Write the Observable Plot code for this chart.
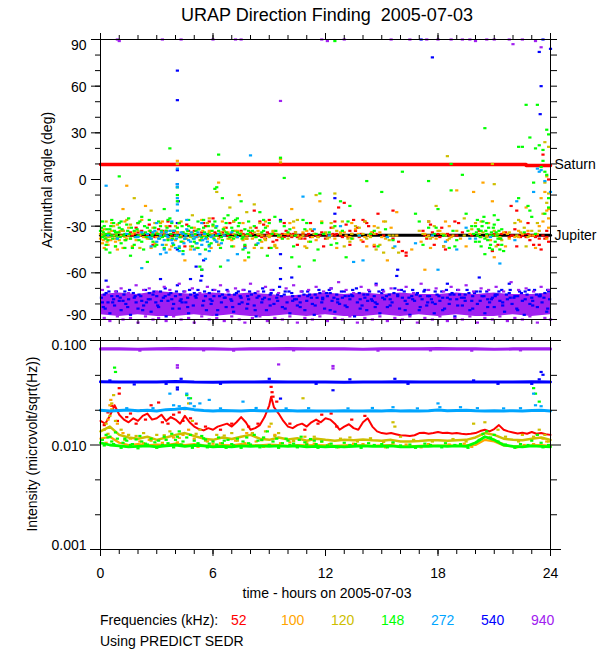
<!DOCTYPE html>
<html><head><meta charset="utf-8">
<script src="https://cdn.jsdelivr.net/npm/d3@7"></script>
<script src="https://cdn.jsdelivr.net/npm/@observablehq/plot@0.6"></script>
<style>
body{margin:0;background:#fff;}
#wrap{position:relative;width:600px;height:650px;overflow:hidden;background:#fff;}
#wrap svg{position:absolute;left:0;}
</style></head><body><div id="wrap"></div>
<script>
// ---------- axis / labels ----------
const hourTicks = [0,1,2,3,4,5,6,7,8,9,10,11,12,13,14,15,16,17,18,19,20,21,22,23,24];
const majorHours = [0,6,12,18,24];
const angleMinor = [-90,-80,-70,-60,-50,-40,-30,-20,-10,0,10,20,30,40,50,60,70,80,90];
const angleMajor = [-90,-60,-30,0,30,60,90];
const angleLabelsMid = [60,30,0,-30,-60];
const intMajor = [0.001,0.01,0.1];
const intMinor = [0.00215,0.00464,0.0215,0.0464];
const freqs = ["52","100","120","148","272","540","940"];
const colors = ["#ff0000","#ffa500","#cdbe00","#00ff00","#00a5ff","#0000ff","#a020f0"];

// ---------- reference lines (azimuth, deg) ----------
const saturnT = [0,22.7,22.7,24];
const saturnA = [9.7,9.7,9.0,9.0];
const jupiterT = [0,24];
const jupiterA = [-35.8,-35.8];

// ---------- 940 kHz dense band core (azimuth, deg) ----------
const bandHours = [0,1,2,3,4,5,6,7,8,9,10,11,12,13,14,15,16,17,18,19,20,21,22,23,24];
const band940Lo = [-87,-88,-87,-88,-88,-87,-88,-87,-88,-88,-87,-88,-87,-88,-88,-87,-88,-87,-88,-87,-88,-88,-87,-88,-87];
const band940Hi = [-74,-73,-74,-72,-73,-74,-73,-74,-73,-74,-75,-74,-73,-74,-73,-74,-73,-74,-74,-73,-74,-73,-74,-74,-73];

// ---------- azimuth points [hour, deg] ----------
const az52 = [[1.2,-33],[1.5,-36],[1.9,-31],[2.3,-35],[2.6,-29],[2.9,-37],[3.1,-32],[3.3,-33],[3.4,-35],[3.7,-30],[3.9,-34],[4.3,-37],[4.6,-29],[4.9,-36],[5.0,-33],[5.3,-36],[5.6,-30],[5.8,-27],[6.0,-25],[6.1,-34],[6.4,-37],[6.7,-31],[6.9,-28],[7.2,-36],[7.5,-33],[7.8,-38],[8.1,-35],[8.2,-20],[8.3,-31],[8.4,-36],[8.5,-27],[8.6,-37],[8.7,-29],[8.8,-38],[8.9,-34],[9.0,-26],[9.1,-36],[9.2,-40],[9.3,-35],[9.4,-39],[9.6,-37],[9.7,-35],[9.9,-33],[10.0,-36],[10.2,-37],[10.3,-35],[10.4,-34],[10.6,-36],[10.7,-38],[10.9,-38],[11.0,-36],[11.1,-35],[11.3,-33],[11.4,-35],[11.6,-37],[11.7,-36],[11.8,-34],[12.0,-38],[12.1,-36],[12.3,-31],[12.4,-35],[12.6,-35],[12.7,-18],[12.8,-36],[12.9,-37],[13.0,-15],[13.1,-29],[13.2,-37],[13.3,-33],[13.5,-26],[13.6,-33],[13.7,-31],[13.9,-35],[14.0,-40],[14.1,-27],[14.2,-28],[14.3,-30],[14.5,-34],[14.8,-22],[15.1,-36],[15.6,-38],[15.6,-20],[15.9,-40],[16.1,-46],[16.3,-47],[16.3,-49],[17.2,-33],[17.4,-38],[17.6,-29],[17.8,-42],[18.0,-35],[18.2,-31],[18.4,-45],[18.6,-36],[18.9,-27],[19.3,-34],[19.8,-36],[20.2,-33],[20.6,-37],[20.9,-46],[21.0,-35],[21.3,-38],[21.6,-34],[21.9,-36],[21.9,-17],[22.0,-36],[22.1,-32],[22.2,-20],[22.3,-36],[22.4,-37],[22.6,-35],[22.7,-37],[22.9,-39],[23.0,-36],[23.1,-42],[23.3,-36],[23.4,-38],[23.5,-45],[23.6,16],[23.7,-38],[23.8,-33],[23.9,-40],[23.9,0],
[1.6,-34],[1.7,-36],[1.8,-35],[2.0,-34],[2.1,-36],[2.2,-33],[2.5,-36],[2.7,-34],[3.0,-35],[3.5,-33],[3.8,-36],[4.1,-34],[4.4,-35],[4.7,-33],[5.1,-36],[5.4,-34],[5.9,-36],[6.2,-35],[6.5,-34],[6.8,-36],[7.0,-35],[7.3,-37],[7.6,-35],[7.9,-36],[8.0,-34],[8.7,-36],[9.0,-35],[9.5,-36],[9.8,-37],[10.1,-35],[10.5,-37],[10.8,-35],[11.2,-37],[11.5,-36],[11.9,-35],[12.2,-37],[12.5,-36],[13.4,-35],[13.8,-37],[14.4,-36],[14.7,-35],[17.3,-36],[17.7,-34],[18.1,-37],[18.5,-35],[19.0,-36],[21.1,-36],[21.4,-35],[21.8,-37],[22.5,-36],[22.8,-35],[23.2,-37],[23.6,-36],[23.8,-37]];
const az52Spread = [[2.0,-28],[2.8,-42],[3.6,-27],[4.5,-43],[5.5,-28],[6.3,-42],[7.1,-27],[7.7,-43],[8.3,-42],[9.0,-44],[9.8,-28],[10.5,-42],[11.2,-28],[11.9,-43],[12.5,-27],[13.3,-42],[14.0,-26],[14.6,-43],[17.5,-27],[18.3,-43],[19.1,-28],[21.2,-42],[22.2,-43],[22.8,-28],[23.4,-42]];
const az100 = [[0.0,-38],[0.1,-41],[0.2,-35],[0.4,-42],[0.5,-37],[0.6,-33],[0.8,-40],[0.9,-29],[1.1,-36],[1.2,-44],[1.2,-19],[1.4,-38],[1.4,-4],[1.5,-31],[1.7,-35],[1.9,-39],[2.0,-28],[2.3,-37],[2.4,-17],[2.6,-33],[2.9,-41],[3.2,-36],[3.5,-30],[3.8,-38],[3.8,-43],[4.1,-34],[4.1,12],[4.4,-40],[4.5,-52],[4.7,-35],[4.8,-45],[5.0,-31],[5.3,-39],[5.5,-36],[5.8,-33],[6.0,-37],[6.2,-40],[6.3,-2],[6.4,-34],[6.6,-31],[6.9,-38],[7.1,-35],[7.3,-33],[7.4,-10],[7.6,-39],[7.7,-52],[7.8,-36],[8.1,-38],[8.4,-33],[8.6,-40],[8.9,-36],[8.9,-30],[9.2,-34],[9.4,-44],[9.6,13],[9.7,-38],[10.0,-35],[10.2,-19],[10.3,-31],[10.7,-37],[11.0,-33],[11.5,-39],[11.7,-14],[12.0,-35],[12.5,-38],[13.0,-34],[13.3,-37],[13.6,-32],[13.9,-39],[14.3,-36],[14.6,-42],[14.6,-30],[14.9,-34],[15.2,-38],[15.3,-52],[15.5,-31],[15.8,-36],[15.8,-21],[16.6,-45],[17.1,-40],[17.3,-35],[17.3,-58],[17.7,-37],[18.1,-33],[18.5,-39],[18.6,-30],[18.8,-36],[19.0,-7],[19.2,-38],[19.7,-35],[19.9,-8],[20.3,-37],[20.4,-2],[20.8,-39],[20.9,-14],[21.0,-50],[21.1,-36],[21.5,-34],[21.8,-38],[22.1,-37],[22.3,-33],[22.5,-35],[22.7,-18],[22.8,-33],[23.1,-36],[23.4,-30],[23.5,-12],[23.6,-27],[23.7,-8],[23.8,-38],[23.8,-20],[23.9,-31],[23.9,-25],[23.9,-19],
[0.05,-36],[0.15,-39],[0.3,-37],[0.35,-40],[0.45,-34],[0.55,-39],[0.7,-36],[0.75,-38],[0.85,-35],[1.0,-39],[1.05,-33],[1.3,-37],[1.6,-38],[1.8,-34],[2.1,-36],[2.5,-38],[2.75,-35],[3.0,-37],[3.4,-34],[3.65,-37],[4.0,-39],[4.3,-36],[4.6,-38],[4.9,-34],[5.2,-37],[5.45,-33],[5.7,-38],[5.95,-35],[6.3,-38],[6.55,-36],[6.8,-34],[7.0,-39],[7.25,-37],[7.5,-34],[7.7,-38],[7.95,-35],[8.25,-37],[8.5,-35],[8.75,-38],[9.05,-36],[9.5,-37],[9.85,-35],[10.5,-36],[10.8,-34],[11.3,-37],[12.3,-36],[12.8,-34],[13.1,-36],[13.45,-38],[13.75,-35],[14.1,-37],[14.45,-34],[15.0,-37],[17.5,-36],[17.9,-38],[18.3,-35],[18.7,-37],[20.6,-36],[21.3,-37],[21.7,-35],[22.3,-37],[22.9,-36],[23.3,-35]];
const az100Spread = [[0.2,-44],[0.6,-28],[0.9,-45],[1.3,-27],[1.7,-43],[2.2,-26],[2.7,-44],[3.3,-27],[3.7,-45],[4.2,-28],[4.8,-43],[5.4,-26],[5.9,-44],[6.5,-27],[7.1,-43],[7.6,-28],[8.2,-44],[8.8,-27],[9.3,-42],[10.1,-28],[10.9,-43],[11.8,-27],[12.6,-44],[13.4,-28],[14.2,-43],[15.1,-27],[17.6,-44],[18.4,-27],[19.5,-43],[20.7,-28],[21.6,-43],[22.4,-27],[23.2,-44]];
const az120 = [[0.0,-35],[0.2,-32],[0.4,-37],[0.7,-30],[1.0,-34],[1.3,-39],[1.6,-29],[1.8,-12],[2.0,-33],[2.4,-37],[2.7,-20],[2.8,-31],[3.2,-35],[3.2,-28],[3.6,-38],[4.0,-30],[4.1,10],[4.4,-34],[4.8,-37],[4.9,-23],[5.2,-32],[5.6,-36],[5.8,-25],[6.0,-30],[6.2,-8],[6.4,-35],[6.8,-38],[6.9,-18],[7.2,-33],[7.6,-36],[7.8,-21],[8.0,-31],[8.2,-16],[8.4,-35],[8.6,-44],[8.8,-39],[9.2,-33],[9.6,11],[9.6,-36],[10.0,-38],[10.4,-34],[10.5,-26],[10.8,-36],[11.1,-40],[11.2,-32],[11.5,-10],[11.6,-37],[12.0,-34],[12.1,-38],[12.4,-31],[12.5,-9],[12.8,-35],[12.9,-27],[13.2,-38],[13.3,-40],[13.6,-30],[13.8,-31],[14.0,-35],[14.4,-37],[14.7,-45],[14.8,-31],[15.1,-47],[15.2,-27],[15.4,-39],[15.6,-36],[15.6,-44],[15.9,-47],[17.0,-33],[17.4,-37],[17.8,-30],[17.9,-17],[18.2,-35],[18.5,15],[18.6,-38],[19.0,-33],[19.4,-36],[19.4,-25],[19.8,-32],[20.0,-28],[20.2,-35],[20.6,-37],[20.9,10],[21.0,-33],[21.0,-3],[21.4,-39],[21.8,-34],[22.2,-36],[22.3,-26],[22.6,-31],[23.0,-33],[23.3,-28],[23.4,-33],[23.6,-22],[23.7,-2],[23.7,24],[23.8,-15],[23.8,2],[23.9,-9],[23.9,21],
[0.1,-33],[0.3,-38],[0.5,-35],[0.9,-37],[1.2,-33],[1.5,-36],[2.2,-35],[2.6,-38],[3.0,-34],[3.4,-36],[3.8,-33],[4.2,-37],[4.6,-35],[5.0,-36],[5.4,-38],[5.8,-34],[6.2,-36],[6.6,-33],[7.0,-37],[7.4,-35],[7.8,-38],[8.2,-34],[8.6,-36],[9.0,-37],[9.4,-35],[10.2,-36],[10.6,-38],[11.4,-35],[12.2,-37],[12.6,-33],[13.4,-35],[14.2,-38],[14.6,-35],[15.4,-36],[17.2,-35],[17.6,-38],[18.0,-33],[18.4,-36],[20.4,-34],[20.8,-36],[21.2,-35],[22.4,-34],[22.8,-37],[23.2,-35]];
const az120Spread = [[0.3,-27],[0.8,-43],[1.4,-26],[2.1,-44],[2.9,-28],[3.5,-42],[4.3,-27],[5.1,-44],[5.7,-28],[6.3,-42],[7.1,-27],[7.7,-44],[8.5,-28],[9.3,-43],[10.3,-27],[11.0,-44],[12.3,-28],[13.0,-43],[14.1,-27],[14.9,-42],[17.5,-27],[18.3,-43],[20.3,-27],[21.1,-43],[22.1,-28],[22.7,-43]];
const az148 = [[0.0,-33],[0.1,-37],[0.2,-30],[0.2,-36],[0.3,-35],[0.3,-45],[0.4,-39],[0.5,-32],[0.5,-47],[0.6,-36],[0.7,-28],[0.8,-34],[0.9,-38],[1.0,-31],[1.0,-28],[1.0,2],[1.1,-41],[1.3,-35],[1.4,-29],[1.6,-38],[1.6,-49],[1.7,-44],[1.8,-33],[2.0,-36],[2.1,-27],[2.2,-40],[2.2,-24],[2.4,-34],[2.5,-31],[2.5,-53],[2.7,-38],[2.8,-35],[2.8,-40],[3.0,-42],[3.2,-30],[3.3,-37],[3.4,-19],[3.5,-33],[3.6,-39],[3.6,-26],[3.7,20],[3.8,-28],[4.0,-36],[4.1,-31],[4.1,-10],[4.1,-14],[4.1,-5],[4.2,-44],[4.3,-40],[4.4,-34],[4.5,-38],[4.7,-30],[4.8,-36],[5.0,-40],[5.1,-33],[5.1,-41],[5.2,-27],[5.3,-56],[5.4,-37],[5.4,-58],[5.5,-31],[5.6,-45],[5.7,-35],[5.9,-41],[6.0,-29],[6.1,-6],[6.2,-36],[6.2,-5],[6.3,-33],[6.3,16],[6.4,-56],[6.5,-39],[6.5,-12],[6.6,-25],[6.8,-35],[6.8,-23],[7.0,-31],[7.1,-38],[7.2,-26],[7.3,-34],[7.4,-28],[7.5,-14],[7.6,-37],[7.7,-42],[7.9,-33],[7.9,-47],[7.9,-50],[8.0,-36],[8.2,-30],[8.5,-39],[8.5,-21],[8.7,-33],[8.9,-49],[9.0,-28],[9.3,-24],[9.5,-36],[9.6,14],[9.8,-30],[9.8,1],[10.1,-32],[10.2,-50],[10.6,-56],[10.8,-26],[11.2,-40],[11.4,-52],[11.7,-9],[11.8,-28],[11.9,-35],[12.3,-42],[12.5,-30],[12.5,89],[12.6,-41],[12.8,-14],[13.1,-50],[13.3,-17],[13.4,-38],[13.8,-36],[14.2,-1],[14.6,-33],[15.0,-8],[15.3,-37],[15.6,-39],[16.1,5],[16.8,-22],[17.2,-42],[17.5,-31],[17.5,-1],[17.9,-31],[18.0,-19],[18.3,-36],[18.6,-44],[18.7,10],[18.7,-7],[19.0,-39],[19.3,3],[19.5,-22],[19.6,-33],[19.8,-30],[20.0,-30],[20.0,-40],[20.1,-36],[20.2,-40],[20.3,-33],[20.4,-27],[20.45,-24],[20.5,-38],[20.5,-48],[20.5,33],[20.6,-35],[20.7,-31],[20.75,-44],[20.8,-42],[20.9,-36],[21.0,-29],[21.0,-23],[21.05,-40],[21.1,-34],[21.2,-38],[21.3,-45],[21.4,-32],[21.5,-46],[22.3,-12],[22.3,21],[22.5,21],[22.7,48],[22.8,-17],[22.9,-20],[22.9,27],[23.0,-24],[23.1,-2],[23.2,20],[23.3,48],[23.4,22],[23.5,8],[23.6,12],[23.6,19],[23.7,5],[23.7,-22],[23.8,3],[23.8,32],[23.9,-12],[23.9,29],[23.9,-18],
[0.05,-31],[0.15,-34],[0.25,-38],[0.35,-32],[0.45,-35],[0.55,-30],[0.65,-38],[0.75,-33],[0.85,-36],[0.95,-34],[1.05,-37],[1.15,-32],[1.25,-36],[1.35,-39],[1.45,-33],[1.55,-35],[1.65,-31],[1.85,-37],[1.95,-32],[2.05,-39],[2.25,-35],[2.35,-30],[2.45,-37],[2.65,-33],[2.75,-36],[2.9,-31],[3.05,-35],[3.15,-38],[3.25,-33],[3.45,-36],[3.55,-31],[3.75,-35],[3.85,-38],[3.95,-33],[4.25,-37],[4.35,-30],[4.55,-35],[4.65,-33],[4.85,-31],[4.95,-38],[5.05,-35],[5.25,-32],[5.35,-39],[5.55,-34],[5.65,-37],[5.75,-30],[5.85,-36],[5.95,-33],[6.05,-38],[6.15,-31],[6.35,-35],[6.45,-37],[6.55,-32],[6.7,-34],[6.9,-37],[7.05,-33],[7.2,-36],[7.35,-30],[7.45,-35],[7.55,-38],[7.7,-32],[7.85,-35],[8.1,-33],[8.3,-37],[8.6,-34],[8.8,-31],[9.15,-35],[9.35,-33],[9.7,-38],[10.0,-34],[10.4,-36],[10.9,-32],[11.5,-35],[12.2,-34],[12.9,-33],[14.4,-35],[15.2,-32],[17.8,-35],[18.8,-33],[19.9,-35],[20.05,-34],[20.15,-32],[20.25,-37],[20.35,-30],[20.55,-33],[20.65,-39],[20.85,-34],[20.95,-31],[21.15,-36],[21.25,-33],[21.35,-38],[22.6,-34],[23.2,-35]];
const az148Spread = [[0.1,-27],[0.3,-42],[0.6,-26],[0.8,-43],[1.1,-27],[1.3,-44],[1.5,-25],[1.8,-42],[2.0,-28],[2.3,-45],[2.6,-26],[2.9,-43],[3.1,-27],[3.4,-44],[3.7,-25],[3.9,-42],[4.2,-28],[4.4,-46],[4.7,-26],[4.9,-43],[5.2,-44],[5.5,-26],[5.8,-42],[6.1,-27],[6.4,-44],[6.7,-28],[7.0,-43],[7.3,-25],[7.6,-45],[7.9,-27],[8.3,-42],[8.7,-26],[9.1,-44],[9.6,-27],[10.3,-43],[11.0,-28],[11.6,-45],[13.2,-27],[14.8,-43],[17.0,-27],[18.9,-43],[20.1,-26],[20.3,-43],[20.6,-28],[20.9,-45],[21.2,-26],[21.4,-42]];
const az272 = [[0.3,-4],[2.0,-37],[2.2,-57],[2.5,-35],[2.7,-38],[2.9,-33],[3.0,-40],[3.2,-36],[3.2,-48],[3.3,-42],[3.5,-34],[3.6,-37],[3.8,-39],[3.9,-33],[4.0,-44],[4.1,-36],[4.1,-5],[4.1,-3],[4.1,7],[4.1,-12],[4.1,-20],[4.1,-16],[4.2,-46],[4.4,-35],[4.5,-38],[4.6,-32],[4.8,-40],[4.9,-36],[5.1,-37],[5.2,-34],[5.3,-48],[5.4,-42],[5.6,-38],[5.6,-51],[5.8,-43],[6.0,-36],[6.2,-40],[6.6,-36],[6.8,-52],[7.0,-34],[7.3,-48],[7.7,-44],[8.0,15.5],[10.8,-11],[11.4,-32],[12.8,-30],[13.5,-53],[14.0,-52],[15.7,-43],[16.8,-41],[17.7,-36],[18.0,-58],[18.4,-40],[19.0,-45],[19.5,-31],[20.0,-38],[21.3,-54],[22.2,-14],[23.1,-8],[23.3,7],[23.4,5],[23.5,6],[23.7,-1],[24.0,-8],
[2.6,-37],[2.8,-34],[3.1,-38],[3.25,-34],[3.4,-39],[3.55,-36],[3.7,-33],[3.85,-41],[4.05,-38],[4.3,-34],[4.45,-41],[4.55,-36],[4.7,-39],[4.85,-34],[5.0,-38],[5.15,-41],[5.3,-36],[5.45,-39],[5.55,-35],[5.7,-40],[5.9,-37],[6.1,-39],[6.3,-35],[6.45,-41],[0.4,-36],[0.9,-38],[1.4,-35],[1.9,-37],[2.2,-34],[7.3,-37],[8.4,-41],[12.2,-36],[13.8,-36],[15.3,-37],[19.7,-38],[20.8,-37],[22.1,-39]];
const az272Spread = [[2.7,-43],[3.0,-28],[3.4,-45],[3.8,-27],[4.2,-43],[4.6,-26],[5.0,-45],[5.4,-28],[5.8,-46],[6.2,-30],[3.5,-47],[4.4,-48]];
const az540 = [[0.05,-76],[0.15,-82],[0.2,-74],[0.3,-73],[0.3,-65],[0.4,-79],[0.5,-86],[0.6,-75],[0.7,-77],[0.75,-81],[0.85,-72],[1.0,-78],[1.1,-84],[1.25,-74],[1.3,-72],[1.35,-80],[1.5,-77],[1.6,-87],[1.75,-73],[1.8,-76],[1.9,-79],[2.0,-83],[2.15,-75],[2.2,-78],[2.3,-81],[2.4,-71],[2.55,-77],[2.6,-73],[2.7,-85],[2.8,-74],[2.95,-79],[3.0,-75],[3.1,-82],[3.2,-72],[3.2,-64],[3.35,-76],[3.45,-70],[3.5,-88],[3.6,-78],[3.75,-73],[3.8,-77],[3.9,-80],[4.0,-75],[4.1,-68],[4.1,70],[4.1,51],[4.1,10],[4.1,6],[4.1,-3],[4.15,-14],[4.1,-28],[4.1,-45],[4.2,-83],[4.25,-74],[4.3,-77],[4.45,-72],[4.55,-79],[4.65,-76],[4.7,-86],[4.8,-74],[4.8,-64],[4.95,-81],[5.0,-73],[5.1,-76],[5.1,-56],[5.2,-71],[5.35,-65],[5.4,-62],[5.4,-58],[5.5,-52],[5.5,-78],[5.6,-75],[5.65,-84],[5.8,-73],[5.9,-80],[6.0,-71],[6.05,-75],[6.2,-87],[6.3,-72],[6.45,-79],[6.5,-74],[6.6,-76],[6.7,-82],[6.85,-74],[6.95,-77],[7.0,-78],[7.1,-85],[7.25,-73],[7.35,-72],[7.4,-80],[7.5,-76],[7.65,-71],[7.8,-83],[7.85,-75],[7.9,-77],[8.05,-74],[8.2,-81],[8.25,-73],[8.3,-88],[8.45,-75],[8.6,-79],[8.7,-72],[8.75,-76],[8.85,-84],[9.0,-77],[9.1,-73],[9.2,-71],[9.25,-80],[9.4,-76],[9.55,-69],[9.6,-64],[9.6,-26],[9.6,-48],[9.6,-57],[9.65,-75],[9.7,-82],[9.8,-74],[9.95,-79],[10.05,-72],[10.1,-86],[10.2,-73],[10.2,-63],[10.35,-77],[10.45,-77],[10.5,-81],[10.6,-75],[10.75,-72],[10.85,-74],[10.9,-84],[11.0,-78],[11.15,-74],[11.25,-76],[11.3,-80],[11.4,-87],[11.55,-76],[11.65,-71],[11.7,-73],[11.8,-79],[11.95,-83],[12.05,-73],[12.1,-75],[12.2,-71],[12.3,-70],[12.35,-78],[12.45,-76],[12.5,-85],[12.5,-12],[12.5,-22],[12.6,-74],[12.75,-80],[12.85,-72],[12.9,-76],[13.0,-72],[13.15,-82],[13.25,-75],[13.3,-77],[13.4,-74],[13.55,-88],[13.65,-70],[13.7,-79],[13.8,-73],[13.95,-81],[14.05,-74],[14.1,-76],[14.2,-84],[14.35,-72],[14.45,-77],[14.5,-78],[14.6,-75],[14.7,-67],[14.75,-80],[14.85,-72],[14.9,-86],[15.0,-73],[15.15,-77],[15.25,-75],[15.3,-82],[15.4,-74],[15.55,-79],[15.65,-73],[15.7,-70],[15.8,-62],[15.85,-58],[15.95,-83],[16.05,-71],[16.1,-76],[16.2,-72],[16.35,-80],[16.45,-76],[16.5,-87],[16.6,-75],[16.75,-78],[16.85,-74],[16.9,-73],[17.0,-84],[17.1,90],[17.15,-77],[17.25,-72],[17.3,-71],[17.4,-81],[17.55,-75],[17.65,-77],[17.7,78.5],[17.7,-79],[17.8,-86],[17.95,-74],[18.05,-75],[18.1,-78],[18.2,-72],[18.35,-83],[18.45,-71],[18.5,-76],[18.5,-67],[18.6,-80],[18.75,-73],[18.85,-74],[18.9,-88],[19.0,-77],[19.15,-74],[19.25,-76],[19.3,-81],[19.4,-76],[19.55,-71],[19.65,-73],[19.7,-84],[19.8,-78],[19.95,-73],[20.05,-72],[20.1,-80],[20.2,-63],[20.35,-75],[20.45,-75],[20.5,-86],[20.6,-72],[20.75,-79],[20.85,-77],[20.9,-76],[21.0,-82],[21.15,-74],[21.25,-72],[21.3,-78],[21.4,-71],[21.55,-85],[21.65,-74],[21.7,-77],[21.8,-73],[21.8,-67],[21.95,-80],[22.05,-76],[22.1,-75],[22.2,-83],[22.35,-72],[22.45,-73],[22.5,-78],[22.6,-87],[22.75,-74],[22.85,-71],[22.9,-80],[23.0,-76],[23.15,-71],[23.25,-74],[23.3,-82],[23.4,-75],[23.4,82],[23.45,42],[23.5,60],[23.55,-79],[23.6,90],[23.65,-76],[23.7,-73],[23.8,-85],[23.9,-72],[23.95,-77],[24.0,84],
[0.1,-79],[0.45,-72],[0.9,-75],[1.2,-78],[1.55,-71],[2.05,-74],[2.45,-79],[2.85,-72],[3.25,-78],[3.65,-74],[4.05,-72],[4.35,-79],[4.75,-71],[5.15,-74],[5.55,-72],[5.95,-78],[6.35,-75],[6.75,-71],[7.15,-74],[7.55,-79],[7.95,-72],[8.35,-76],[8.65,-70],[9.05,-74],[9.45,-78],[9.85,-72],[10.25,-75],[10.65,-79],[11.05,-72],[11.45,-74],[11.85,-77],[12.25,-73],[12.65,-79],[13.05,-75],[13.45,-71],[13.85,-77],[14.25,-74],[14.65,-79],[15.05,-71],[15.45,-77],[15.85,-74],[16.25,-78],[16.65,-71],[17.05,-75],[17.45,-79],[17.85,-72],[18.25,-76],[18.65,-74],[19.05,-71],[19.45,-78],[19.85,-75],[20.25,-72],[20.65,-77],[21.05,-74],[21.45,-79],[21.85,-71],[22.25,-75],[22.65,-72],[23.05,-78],[23.45,-74],[23.85,-71]];
const az540Core = [[0.25,-83],[0.65,-79],[1.05,-76],[1.45,-82],[1.85,-75],[2.25,-84],[2.65,-77],[3.05,-81],[3.45,-75],[3.85,-83],[4.25,-78],[4.65,-82],[5.05,-75],[5.45,-81],[5.85,-77],[6.25,-84],[6.65,-76],[7.05,-82],[7.45,-75],[7.85,-80],[8.25,-84],[8.65,-77],[9.05,-81],[9.45,-74],[9.85,-83],[10.25,-78],[10.65,-82],[11.05,-75],[11.45,-81],[11.85,-76],[12.25,-84],[12.65,-77],[13.05,-81],[13.45,-75],[13.85,-83],[14.25,-78],[14.65,-82],[15.05,-76],[15.45,-81],[15.85,-75],[16.25,-84],[16.65,-77],[17.05,-82],[17.45,-75],[17.85,-80],[18.25,-84],[18.65,-77],[19.05,-81],[19.45,-74],[19.85,-83],[20.25,-78],[20.65,-82],[21.05,-75],[21.45,-81],[21.85,-76],[22.25,-84],[22.65,-77],[23.05,-81],[23.45,-75],[23.85,-83]];
const az940 = [[0.1,-71],[0.4,-69],[0.8,-72],[0.9,90],[1.0,89],[1.1,-70],[1.5,-73],[1.9,-68],[2.3,-71],[2.6,-70],[3.0,-72],[3.3,90],[3.4,-69],[3.7,-71],[4.2,-67],[4.3,90],[4.5,-72],[4.9,-70],[5.3,-73],[5.7,-69],[6.0,90],[6.1,-71],[6.4,-68],[6.8,-72],[7.2,-70],[7.2,90],[7.5,90],[7.6,-71],[8.0,-67],[8.4,-72],[8.8,-69],[9.1,-71],[9.5,-73],[9.6,50.5],[9.9,-70],[10.3,-68],[10.7,-72],[11.1,-71],[11.5,-69],[11.8,90],[11.9,-72],[12.1,89],[12.3,-70],[12.7,-66],[13.0,90],[13.1,-71],[13.5,-73],[13.9,-69],[14.3,-71],[14.7,-68],[15.1,-72],[15.5,-70],[15.5,90],[15.9,-71],[16.3,-69],[16.5,90],[16.7,-73],[17.1,-67],[17.4,90],[17.5,-71],[17.9,-70],[18.0,90],[18.3,-72],[18.7,-69],[18.7,90],[19.1,-71],[19.3,90],[19.5,-68],[19.7,90],[19.9,-72],[20.0,89],[20.3,-70],[20.6,90],[20.7,-71],[21.0,90],[21.1,-69],[21.5,-72],[21.8,90],[21.9,-66],[22.0,87],[22.3,-71],[22.5,90],[22.7,-70],[23.1,-72],[23.2,89],[23.5,-69],[23.5,85],[23.9,-71],
[0.2,-89],[0.5,-91],[0.9,-88],[1.2,-90],[1.6,-89],[2.0,-92],[2.4,-88],[2.8,-90],[3.1,-89],[3.5,-91],[3.9,-88],[4.3,-90],[4.7,-89],[5.0,-92],[5.4,-88],[5.8,-90],[6.2,-89],[6.6,-91],[7.0,-88],[7.4,-90],[7.7,-92],[8.1,-89],[8.5,-88],[8.9,-91],[9.3,-89],[9.7,-90],[10.1,-88],[10.5,-92],[10.9,-89],[11.3,-90],[11.7,-88],[12.1,-91],[12.5,-89],[12.9,-90],[13.3,-88],[13.7,-92],[14.1,-89],[14.5,-90],[14.9,-88],[15.3,-91],[15.7,-89],[16.1,-90],[16.5,-88],[16.9,-92],[17.3,-89],[17.7,-90],[18.1,-88],[18.5,-91],[18.9,-89],[19.3,-90],[19.7,-88],[20.1,-92],[20.5,-89],[20.9,-90],[21.3,-88],[21.7,-91],[22.1,-89],[22.5,-90],[22.9,-88],[23.3,-92],[23.7,-89],[24.0,-90]];

// ---------- intensity (microvolt/sqrt(Hz)) ----------
const tHalf = [0,0.5,1,1.5,2,2.5,3,3.5,4,4.5,5,5.5,6,6.5,7,7.5,8,8.5,9,9.5,10,10.5,11,11.5,12,12.5,13,13.5,14,14.5,15,15.5,16,16.5,17,17.5,18,18.5,19,19.5,20,20.5,21,21.5,22,22.5,23,23.5,24];
const i52 = [[0,0.0170],[0.25,0.0160],[0.5,0.0190],[0.75,0.0240],[1,0.0195],[1.25,0.0175],[1.5,0.0165],[1.75,0.0180],[2,0.0170],[2.25,0.0190],[2.5,0.0200],[2.75,0.0175],[3,0.0180],[3.25,0.0195],[3.5,0.0170],[3.75,0.0185],[4,0.0175],[4.25,0.0160],[4.5,0.0190],[4.75,0.0165],[5,0.0150],[5.25,0.0142],[5.5,0.0138],[5.75,0.0145],[6,0.0140],[6.25,0.0150],[6.5,0.0155],[6.75,0.0160],[7,0.0150],[7.25,0.0165],[7.5,0.0185],[7.75,0.0165],[8,0.0140],[8.25,0.0145],[8.5,0.0155],[8.75,0.0185],[9,0.0240],[9.1,0.0290],[9.25,0.0230],[9.5,0.0200],[9.75,0.0170],[10,0.0150],[10.25,0.0145],[10.5,0.0155],[10.75,0.0160],[11,0.0150],[11.25,0.0165],[11.5,0.0175],[11.75,0.0165],[12,0.0180],[12.25,0.0175],[12.5,0.0160],[12.75,0.0140],[13,0.0150],[13.25,0.0158],[13.5,0.0145],[13.75,0.0140],[14,0.0165],[14.25,0.0180],[14.5,0.0150],[14.75,0.0135],[15,0.0130],[15.25,0.0128],[15.5,0.0130],[15.75,0.0127],[16,0.0124],[16.25,0.0123],[16.5,0.0122],[16.75,0.0124],[17,0.0130],[17.25,0.0131],[17.5,0.0128],[17.75,0.0130],[18,0.0133],[18.25,0.0130],[18.5,0.0131],[18.75,0.0129],[19,0.0130],[19.25,0.0128],[19.5,0.0127],[19.75,0.0128],[20,0.0130],[20.25,0.0136],[20.5,0.0140],[20.75,0.0135],[21,0.0142],[21.25,0.0155],[21.5,0.0140],[21.75,0.0135],[22,0.0132],[22.25,0.0129],[22.5,0.0131],[22.75,0.0128],[23,0.0133],[23.25,0.0128],[23.5,0.0130],[23.75,0.0127],[24,0.0125]];
const i100 = [0.0115,0.0120,0.0105,0.0100,0.0102,0.0099,0.0101,0.0100,0.0103,0.0100,0.0102,0.0099,0.0098,0.0100,0.0099,0.0102,0.0100,0.0099,0.0101,0.0100,0.0098,0.0100,0.0099,0.0100,0.0099,0.0098,0.0099,0.0100,0.0099,0.0098,0.0099,0.0100,0.0097,0.0097,0.0098,0.0099,0.0098,0.0099,0.0098,0.0099,0.0100,0.0112,0.0108,0.0099,0.0097,0.0097,0.0099,0.0100,0.0098];
const i120 = [0.0135,0.0150,0.0125,0.0118,0.0115,0.0120,0.0112,0.0118,0.0125,0.0130,0.0122,0.0115,0.0112,0.0118,0.0114,0.0120,0.0125,0.0115,0.0112,0.0118,0.0113,0.0116,0.0110,0.0115,0.0112,0.0110,0.0112,0.0111,0.0113,0.0111,0.0110,0.0112,0.0108,0.0108,0.0109,0.0111,0.0111,0.0110,0.0111,0.0112,0.0118,0.0130,0.0125,0.0115,0.0112,0.0111,0.0115,0.0118,0.0112];
const i148 = [0.0105,0.0100,0.0098,0.0096,0.0097,0.0098,0.0096,0.0098,0.0100,0.0097,0.0099,0.0098,0.0096,0.0097,0.0096,0.0098,0.0097,0.0098,0.0097,0.0098,0.0097,0.0098,0.0096,0.0097,0.0096,0.0097,0.0096,0.0097,0.0098,0.0097,0.0097,0.0098,0.0096,0.0096,0.0097,0.0097,0.0098,0.0097,0.0098,0.0097,0.0105,0.0120,0.0112,0.0100,0.0097,0.0096,0.0098,0.0097,0.0096];
const i272 = [0.0215,0.0212,0.0214,0.0216,0.0213,0.0215,0.0212,0.0218,0.0220,0.0225,0.0218,0.0214,0.0212,0.0214,0.0213,0.0212,0.0214,0.0213,0.0212,0.0213,0.0214,0.0212,0.0213,0.0212,0.0211,0.0212,0.0213,0.0212,0.0211,0.0213,0.0212,0.0214,0.0212,0.0213,0.0212,0.0213,0.0216,0.0213,0.0214,0.0215,0.0213,0.0212,0.0213,0.0212,0.0213,0.0212,0.0214,0.0215,0.0212];
const i540 = [0.0402,0.0400,0.0401,0.0400,0.0405,0.0400,0.0399,0.0401,0.0400,0.0402,0.0400,0.0401,0.0400,0.0399,0.0401,0.0400,0.0402,0.0400,0.0401,0.0400,0.0401,0.0400,0.0401,0.0403,0.0400];
const i940 = [0.0830,0.0830,0.0825,0.0830,0.0835,0.0830,0.0830,0.0825,0.0830,0.0830,0.0835,0.0830,0.0830,0.0830,0.0825,0.0830,0.0830,0.0830,0.0835,0.0830,0.0830,0.0825,0.0830,0.0830,0.0830];
const pts52 = [[0.6,0.0237],[1.0,0.035],[1.0,0.031],[2.7,0.024],[3.1,0.0255],[0.4,0.0205],[1.6,0.0200],[2.2,0.0215],[3.6,0.0160],[4.2,0.0205],[4.8,0.0180],[9.1,0.036],[9.15,0.032],[9.2,0.029],[9.4,0.026],[11.8,0.0195],[12.3,0.0200],[13.4,0.0175],[14.1,0.0190],
[0.2,0.0155],[0.9,0.0170],[1.4,0.0185],[1.9,0.0160],[2.4,0.0175],[3.3,0.0165],[3.9,0.0195],[4.4,0.0170],[5.1,0.0160],[5.6,0.0150],[6.4,0.0140],[7.0,0.0160],[7.9,0.0150],[8.4,0.0160],[10.1,0.0160],[10.9,0.0140],[11.6,0.0160],[12.6,0.0150]];
const pts100 = [[0.2,0.0140],[0.4,0.0175],[0.5,0.024],[0.55,0.027],[0.6,0.022],[0.9,0.0160],[1.2,0.0130],[1.6,0.0115],[2.1,0.0108],[2.6,0.0112],[3.3,0.0105],[3.9,0.0118],[4.4,0.0125],[4.7,0.0140],[5.0,0.0115],[5.7,0.0108],[6.4,0.0104],[7.2,0.0110],[7.8,0.0130],[8.3,0.0108],[9.0,0.0150],[9.3,0.0125],[10.1,0.0106],[11.0,0.0104],[12.2,0.0102],[13.5,0.0103],[15.6,0.0104],[17.5,0.0102],[19.4,0.0103],[20.3,0.0125],[20.7,0.0118],[22.6,0.0100],[23.6,0.0115],[23.8,0.0108],
[0.3,0.0105],[1.4,0.0097],[2.3,0.0104],[3.1,0.0096],[4.1,0.0106],[5.2,0.0096],[6.0,0.0103],[6.9,0.0096],[7.7,0.0104],[8.7,0.0096],[9.6,0.0104],[10.5,0.0096],[11.4,0.0103],[12.7,0.0095],[14.0,0.0102],[15.2,0.0095],[16.3,0.0101],[17.1,0.0095],[18.6,0.0101],[19.8,0.0096],[21.4,0.0103],[22.2,0.0095],[23.1,0.0102]];
const pts120 = [[0.3,0.0160],[0.5,0.0190],[0.6,0.025],[0.7,0.030],[0.8,0.0170],[1.1,0.0140],[1.5,0.0125],[2.3,0.0130],[3.0,0.0125],[3.7,0.0135],[4.5,0.0220],[4.7,0.0250],[4.9,0.0170],[5.3,0.0140],[6.2,0.0125],[7.0,0.0130],[7.6,0.0140],[8.8,0.0135],[9.1,0.0160],[9.5,0.0130],[10.8,0.028],[11.4,0.0120],[13.3,0.0118],[15.6,0.0165],[15.7,0.0150],[16.0,0.0120],[19.9,0.0160],[20.5,0.0165],[21.2,0.0140],[22.5,0.0125],[23.4,0.0140],[23.7,0.0125],
[0.4,0.0128],[1.3,0.0112],[1.9,0.0122],[2.7,0.0110],[3.4,0.0124],[4.2,0.0117],[5.1,0.0128],[5.6,0.0110],[6.6,0.0123],[7.3,0.0110],[8.1,0.0130],[8.6,0.0111],[9.3,0.0122],[10.3,0.0109],[10.9,0.0120],[11.8,0.0108],[12.8,0.0115],[13.7,0.0108],[14.4,0.0116],[15.1,0.0107],[16.7,0.0112],[17.7,0.0108],[18.8,0.0114],[19.5,0.0108],[21.6,0.0120],[22.3,0.0108],[23.1,0.0120],[23.9,0.0108]];
const pts148 = [[0.1,0.0112],[0.3,0.0125],[0.4,0.0118],[0.6,0.0108],[0.75,0.055],[0.8,0.050],[0.8,0.0132],[0.9,0.0115],[1.2,0.0105],[1.4,0.0110],[1.7,0.0102],[1.9,0.0113],[2.2,0.0108],[2.4,0.0103],[2.7,0.0115],[2.9,0.0106],[3.1,0.0110],[3.4,0.0120],[3.6,0.0104],[3.8,0.0128],[4.0,0.0112],[4.2,0.0135],[4.4,0.0108],[4.6,0.0118],[4.6,0.030],[4.8,0.0125],[4.8,0.028],[5.0,0.0110],[5.2,0.0104],[5.4,0.0122],[5.6,0.0113],[5.8,0.0103],[6.0,0.0108],[6.3,0.0118],[6.5,0.0104],[6.8,0.0112],[7.0,0.0102],[7.3,0.0115],[7.6,0.0108],[7.9,0.0104],[8.2,0.0125],[8.4,0.0110],[8.7,0.0118],[8.9,0.0135],[9.2,0.0108],[9.4,0.0115],[9.7,0.0104],[10.0,0.0110],[10.3,0.0103],[10.6,0.0112],[10.9,0.0106],[11.2,0.0114],[11.5,0.0102],[11.8,0.0108],[12.3,0.0103],[13.0,0.0105],[13.6,0.0102],[14.3,0.0104],[15.0,0.0102],[15.6,0.0106],[16.5,0.0101],[17.3,0.0103],[18.4,0.0104],[19.2,0.0102],[20.2,0.0112],[20.4,0.0128],[20.6,0.0135],[20.8,0.0118],[21.0,0.0125],[21.2,0.0108],[22.4,0.0102],[23.0,0.0110],[23.1,0.035],[23.2,0.031],[23.3,0.0125],[23.4,0.026],[23.5,0.0105],[23.9,0.0100],
[0.2,0.0099],[0.7,0.0102],[1.1,0.0094],[1.6,0.0100],[2.0,0.0093],[2.5,0.0101],[3.0,0.0094],[3.3,0.0100],[3.9,0.0095],[4.3,0.0101],[4.9,0.0094],[5.3,0.0100],[5.7,0.0095],[6.2,0.0101],[6.7,0.0094],[7.1,0.0099],[7.5,0.0094],[8.0,0.0101],[8.5,0.0095],[9.0,0.0100],[9.5,0.0094],[10.1,0.0100],[10.5,0.0095],[11.0,0.0101],[11.6,0.0094],[12.1,0.0099],[12.6,0.0095],[13.3,0.0100],[13.9,0.0094],[14.6,0.0100],[15.3,0.0095],[16.0,0.0099],[16.8,0.0094],[17.6,0.0100],[18.2,0.0095],[18.9,0.0100],[19.6,0.0094],[21.6,0.0101],[22.1,0.0094],[22.8,0.0100],[23.6,0.0095],
[0.5,0.0120],[1.3,0.0115],[2.1,0.0122],[3.5,0.0112],[4.1,0.0120],[5.5,0.0116],[6.6,0.0110],[7.8,0.0118],[8.6,0.0112],[9.9,0.0115],[10.7,0.0120],[11.4,0.0110]];
const pts272 = [[1.4,0.0225],[2.8,0.0225],[3.7,0.031],[3.9,0.024],[4.2,0.0235],[4.6,0.031],[4.7,0.028],[4.8,0.025],[5.0,0.0235],[5.3,0.025],[5.8,0.027],[6.4,0.0224],[7.6,0.026],[8.3,0.0226],[9.9,0.0224],[11.1,0.0225],[13.2,0.0224],[14.5,0.0226],[15.6,0.023],[16.9,0.0224],[18.0,0.025],[18.1,0.023],[19.2,0.023],[20.1,0.0225],[21.5,0.0224],[22.4,0.0225],[23.1,0.031],[23.2,0.024],[23.5,0.0235]];
const pts540 = [[0.5,0.0415],[1.8,0.038],[3.5,0.0385],[4.1,0.0355],[4.1,0.034],[4.3,0.043],[6.4,0.0385],[9.0,0.043],[9.6,0.0278],[11.5,0.0385],[12.4,0.0334],[13.3,0.0425],[15.7,0.043],[16.4,0.0385],[19.9,0.0415],[21.2,0.0385],[23.0,0.0385],[23.4,0.0425],[23.5,0.050],[23.6,0.047]];
const pts940 = [[4.1,0.058],[4.1,0.055],[9.5,0.059],[12.4,0.057],[12.4,0.054],[2.1,0.080],[5.5,0.0805],[7.1,0.080],[10.3,0.0805],[14.8,0.080],[17.6,0.0805],[19.8,0.080],[22.4,0.0805]];

// ---------- build ----------
const FONT = '"Liberation Sans", Arial, Helvetica, sans-serif';
const wrap = document.getElementById("wrap");
const X = d => d[0], Y = d => d[1];
const none = () => "";
const fmt = d => String(d);
// pixel-like 3x2 dash, as the original plotting symbol
const dash = {draw(ctx) { ctx.moveTo(-1.6, -1.1); ctx.lineTo(1.6, -1.1); ctx.lineTo(1.6, 1.1); ctx.lineTo(-1.6, 1.1); ctx.closePath(); }};
const sq = {symbol: dash, r: 1.2};

const bandRows = bandHours.map((t, i) => ({t, lo: band940Lo[i], hi: band940Hi[i]}));
const satRows = saturnT.map((t, i) => ({t, a: saturnA[i]}));
const jupRows = jupiterT.map((t, i) => ({t, a: jupiterA[i]}));
const azSets = [az52.concat(az52Spread), az100.concat(az100Spread), az120.concat(az120Spread), az148.concat(az148Spread), az272.concat(az272Spread)];

const topPlot = Plot.plot({
  width: 600, height: 330,
  marginLeft: 100, marginRight: 50, marginTop: 39, marginBottom: 11,
  x: {domain: [0, 24]},
  y: {domain: [-90, 90]},
  style: {fontFamily: FONT, fontSize: "14px", color: "#000", background: "transparent", overflow: "visible"},
  marks: [
    Plot.areaY(bandRows, {x: "t", y1: "lo", y2: "hi", fill: colors[6]}),
    Plot.dot(az540.concat(az540Core), {x: X, y: Y, fill: colors[5], ...sq}),
    Plot.dot(az940, {x: X, y: Y, fill: colors[6], ...sq}),
    Plot.line(jupRows, {x: "t", y: "a", stroke: "#000", strokeWidth: 3}),
    Plot.line(satRows, {x: "t", y: "a", stroke: colors[0], strokeWidth: 3.5}),
    ...azSets.map((s, i) => Plot.dot(s, {x: X, y: Y, fill: colors[i], ...sq})),
    Plot.text([{a: saturnA[0], n: "Saturn"}, {a: jupiterA[0], n: "Jupiter"}], {x: 24, y: "a", text: "n", dx: 4, textAnchor: "start", fontSize: 14, fill: "#000"}),
    Plot.frame({stroke: "#000"}),
    Plot.axisX({anchor: "top", ticks: hourTicks, tickSize: 5, tickFormat: none, label: null}),
    Plot.axisX({anchor: "top", ticks: majorHours, tickSize: 7, tickFormat: none, label: null}),
    Plot.axisX({anchor: "bottom", ticks: hourTicks, tickSize: 5, tickFormat: none, label: null}),
    Plot.axisX({anchor: "bottom", ticks: majorHours, tickSize: 7, tickFormat: none, label: null}),
    Plot.axisY({anchor: "left", ticks: angleMinor, tickSize: 5, tickFormat: none, label: null}),
    Plot.axisY({anchor: "left", ticks: angleMajor, tickSize: 9, tickFormat: none, label: null}),
    Plot.axisY({anchor: "right", ticks: angleMinor, tickSize: 6, tickFormat: none, label: null}),
    Plot.axisY({anchor: "left", ticks: angleLabelsMid, tickSize: 0, tickPadding: 14, dy: 1, tickFormat: fmt, fontSize: 14, label: null}),
    Plot.axisY({anchor: "left", ticks: [angleMajor[6]], tickSize: 0, tickPadding: 14, dy: 6.5, tickFormat: fmt, fontSize: 14, label: null}),
    Plot.axisY({anchor: "left", ticks: [angleMajor[0]], tickSize: 0, tickPadding: 14, dy: -4, tickFormat: fmt, fontSize: 14, label: null})
  ]
});
topPlot.style.top = "0px";
wrap.appendChild(topPlot);

const halfRows = arr => tHalf.map((t, i) => [t, arr[i]]);
const hourRows = arr => bandHours.map((t, i) => [t, arr[i]]);
const intLines = [
  {d: i52, c: 0, w: 2},
  {d: halfRows(i100), c: 1, w: 2.2},
  {d: halfRows(i120), c: 2, w: 2.5},
  {d: halfRows(i148), c: 3, w: 2.8},
  {d: halfRows(i272), c: 4, w: 3},
  {d: hourRows(i540), c: 5, w: 3},
  {d: hourRows(i940), c: 6, w: 3.2}
];
const intPts = [pts52, pts100, pts120, pts148, pts272, pts540, pts940];
const intFmt = d => d.toFixed(3);

const botPlot = Plot.plot({
  width: 600, height: 320,
  marginLeft: 100, marginRight: 50, marginTop: 10, marginBottom: 101,
  x: {domain: [0, 24]},
  y: {type: "log", domain: [0.001, 0.1]},
  style: {fontFamily: FONT, fontSize: "14px", color: "#000", background: "transparent", overflow: "visible"},
  marks: [
    ...intLines.flatMap(L => [
      Plot.line(L.d, {x: X, y: Y, stroke: colors[L.c], strokeWidth: L.w}),
      Plot.dot(intPts[L.c], {x: X, y: Y, fill: colors[L.c], ...sq})
    ]),
    Plot.frame({stroke: "#000"}),
    Plot.axisX({anchor: "top", ticks: hourTicks, tickSize: 4, tickFormat: none, label: null}),
    Plot.axisX({anchor: "bottom", ticks: hourTicks, tickSize: 5, tickFormat: none, label: null}),
    Plot.axisX({anchor: "bottom", ticks: majorHours, tickSize: 7, tickFormat: none, label: null}),
    Plot.axisX({anchor: "bottom", ticks: majorHours, tickSize: 0, tickPadding: 19, tickFormat: fmt, fontSize: 14, label: null}),
    Plot.axisY({anchor: "left", ticks: intMinor, tickSize: 5, tickFormat: none, label: null}),
    Plot.axisY({anchor: "left", ticks: intMajor, tickSize: 10, tickFormat: none, label: null}),
    Plot.axisY({anchor: "right", ticks: intMinor, tickSize: 6, tickFormat: none, label: null}),
    Plot.axisY({anchor: "right", ticks: intMajor, tickSize: 10, tickFormat: none, label: null}),
    Plot.axisY({anchor: "left", ticks: [intMajor[2]], tickSize: 0, tickPadding: 14, dy: 5, tickFormat: intFmt, fontSize: 14, label: null}),
    Plot.axisY({anchor: "left", ticks: [intMajor[1]], tickSize: 0, tickPadding: 14, dy: 1.7, tickFormat: intFmt, fontSize: 14, label: null}),
    Plot.axisY({anchor: "left", ticks: [intMajor[0]], tickSize: 0, tickPadding: 14, dy: -4, tickFormat: intFmt, fontSize: 14, label: null})
  ]
});
botPlot.style.top = "330px";
wrap.appendChild(botPlot);

// ---------- titles, labels, legend ----------
const ov = d3.create("svg").attr("width", 600).attr("height", 650)
  .style("top", "0px").style("font-family", FONT).style("pointer-events", "none");
function txt(x, y, s, size, opts = {}) {
  const t = ov.append("text").attr("x", x).attr("y", y).attr("font-size", size)
    .attr("text-anchor", opts.anchor || "start").attr("fill", opts.fill || "#000")
    .style("white-space", "pre").text(s);
  if (opts.rot) t.attr("transform", `rotate(${opts.rot},${x},${y})`);
  return t;
}
txt(327, 21, "URAP Direction Finding  2005-07-03", 18, {anchor: "middle"});
txt(52, 180, "Azimuthal angle (deg)", 14, {anchor: "middle", rot: -90});
txt(37, 444, "Intensity (microvolt/sqrt(Hz))", 14, {anchor: "middle", rot: -90});
txt(327, 598, "time - hours on 2005-07-03", 14, {anchor: "middle"});
txt(100, 625, "Frequencies (kHz):", 14);
freqs.forEach((f, i) => txt(231 + 50 * i, 625, f, 14, {fill: colors[i]}));
txt(100, 646, "Using PREDICT SEDR", 14);
wrap.appendChild(ov.node());
</script></body></html>
